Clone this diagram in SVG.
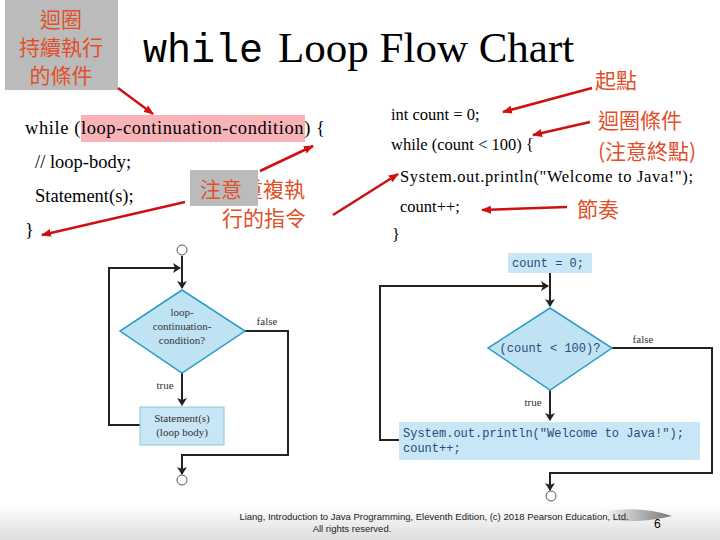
<svg xmlns="http://www.w3.org/2000/svg" width="720" height="540" viewBox="0 0 720 540">
<defs>
<style>
.cjk{font-family:"Noto Sans CJK TC","Noto Sans CJK SC",sans-serif;fill:#e0502a}
.ser{font-family:"Liberation Serif",serif;fill:#000}
.fc{font-family:"Liberation Serif",serif;font-size:11px;fill:#333;text-anchor:middle}
.mono{font-family:"Liberation Mono",monospace;font-size:12px;fill:#2a4a7a}
.ln{stroke:#222;stroke-width:2;fill:none}
.red{stroke:#d01010;stroke-width:2.5;fill:none;marker-end:url(#ra)}
.node{fill:#bfe3f3;stroke:#2a9cc8;stroke-width:1.5}
.box{fill:#c8e6f5}
</style>
<marker id="ra" markerWidth="10" markerHeight="8" refX="9" refY="4" orient="auto" markerUnits="userSpaceOnUse"><path d="M0,0 L10,4 L0,8 Z" fill="#d01010"/></marker>
<marker id="ba" markerWidth="8" markerHeight="10" refX="7" refY="5" orient="auto" markerUnits="userSpaceOnUse"><path d="M0,0 L8,5 L0,10 L2,5 Z" fill="#222"/></marker>
<linearGradient id="ft" x1="0" y1="0" x2="0" y2="1"><stop offset="0" stop-color="#fff"/><stop offset="1" stop-color="#ddd"/></linearGradient>
<linearGradient id="pg" x1="0" y1="0" x2="1" y2="0"><stop offset="0" stop-color="#fff"/><stop offset="1" stop-color="#777"/></linearGradient>
<clipPath id="cl"><rect x="258" y="170" width="80" height="40"/></clipPath>
</defs>
<rect width="720" height="540" fill="#fff"/>
<rect x="0" y="505" width="720" height="35" fill="url(#ft)"/>
<path d="M600,512 Q640,505 672,516 Q640,524 600,520 Z" fill="url(#pg)"/>
<text x="654" y="528" font-family="Liberation Sans,sans-serif" font-size="12">6</text>
<text x="434" y="520" font-family="Liberation Sans,sans-serif" font-size="9.5" text-anchor="middle" fill="#222">Liang, Introduction to Java Programming, Eleventh Edition, (c) 2018 Pearson Education, Ltd.</text>
<text x="352" y="532" font-family="Liberation Sans,sans-serif" font-size="9.5" text-anchor="middle" fill="#222">All rights reserved.</text>

<g id="title">
<text x="143" y="62" font-family="Liberation Mono,monospace" font-size="40">while</text>
<text x="278" y="62" class="ser" font-size="43">Loop Flow Chart</text>
</g>
<g id="note1">
<rect x="5" y="0" width="113" height="90" fill="#bbb"/>
<text class="cjk" font-size="21" text-anchor="middle"><tspan x="61" y="27">迴圈</tspan><tspan x="61" y="55">持續執行</tspan><tspan x="61" y="83">的條件</tspan></text>
</g>
<g id="code-left" class="ser" font-size="18.5">
<rect x="81" y="115" width="224" height="27" fill="#f7b3b8"/>
<text x="25" y="134" textLength="300">while (loop-continuation-condition) {</text>
<text x="35" y="168">// loop-body;</text>
<text x="35" y="202">Statement(s);</text>
<text x="25" y="236">}</text>
</g>
<g id="note2">
<rect x="190" y="170" width="68" height="36" fill="#bbb"/>
<text class="cjk" font-size="21" x="200" y="197">注意</text>
<text class="cjk" font-size="21" x="242" y="197" clip-path="url(#cl)">重複執</text>
<text class="cjk" font-size="21" x="264" y="226" text-anchor="middle">行的指令</text>
</g>
<g id="code-right" class="ser" font-size="16.5">
<text x="391" y="120">int count = 0;</text>
<text x="391" y="150">while (count &lt; 100) {</text>
<text x="400" y="182" textLength="293">System.out.println("Welcome to Java!");</text>
<text x="400" y="212">count++;</text>
<text x="392" y="240">}</text>
</g>
<g id="notes-right" class="cjk">
<text x="595" y="88" font-size="21">起點</text>
<text x="598" y="128" font-size="21">迴圈條件</text>
<text x="598" y="159" font-size="21">(注意終點)</text>
<text x="577" y="217" font-size="21">節奏</text>
</g>
<g id="red-arrows">
<path class="red" d="M118,88 L153,114"/>
<path class="red" d="M260,171 L313,146"/>
<path class="red" d="M185,202 L42,235"/>
<path class="red" d="M333,215 L398,174"/>
<path class="red" d="M592,88 L503,112"/>
<path class="red" d="M590,122 L533,135"/>
<path class="red" d="M567,207 L482,210"/>
</g>

<g id="connectors">
<path class="ln" d="M182,256 V288" marker-end="url(#ba)"/>
<path class="ln" d="M140,425 H109 V268 H180" marker-end="url(#ba)"/>
<path class="ln" d="M182,373 V405" marker-end="url(#ba)"/>
<path class="ln" d="M245,331 H288 V455 H182 V474" marker-end="url(#ba)"/>
<path class="ln" d="M550,273 V306" marker-end="url(#ba)"/>
<path class="ln" d="M399,440 H380 V286 H548" marker-end="url(#ba)"/>
<path class="ln" d="M550,390 V420" marker-end="url(#ba)"/>
<path class="ln" d="M612,348 H712 V473 H550 V490" marker-end="url(#ba)"/>
</g>
<g id="lbl" class="fc">
<text x="267" y="325">false</text>
<text x="165" y="389">true</text>
<text x="643" y="343">false</text>
<text x="533" y="406">true</text>
</g>
<g id="start-l"><circle cx="182" cy="250" r="5" fill="#fff" stroke="#555"/></g>
<g id="cond-l"><path class="node" d="M182,290 L245,331 L182,373 L120,331 Z"/>
<text class="fc"><tspan x="182" y="316">loop-</tspan><tspan x="182" y="330">continuation-</tspan><tspan x="182" y="344">condition?</tspan></text></g>
<g id="body-l"><rect x="140" y="407" width="84" height="38" class="box" stroke="#8cc" stroke-width="1"/>
<text class="fc"><tspan x="182" y="422">Statement(s)</tspan><tspan x="182" y="436">(loop body)</tspan></text></g>
<g id="end-l"><circle cx="182" cy="480" r="5" fill="#fff" stroke="#555"/></g>
<g id="init-r"><rect x="508" y="253" width="84" height="20" class="box"/><text class="mono" x="512" y="267">count = 0;</text></g>
<g id="cond-r"><path class="node" d="M550,308 L612,348 L550,390 L488,348 Z"/><text class="mono" x="550" y="352" text-anchor="middle">(count &lt; 100)?</text></g>
<g id="body-r"><rect x="399" y="422" width="301" height="38" class="box"/>
<text class="mono" x="403" y="437">System.out.println("Welcome to Java!");</text><text class="mono" x="403" y="452">count++;</text></g>
<g id="end-r"><circle cx="551" cy="496" r="5" fill="#fff" stroke="#555"/></g>
</svg>
